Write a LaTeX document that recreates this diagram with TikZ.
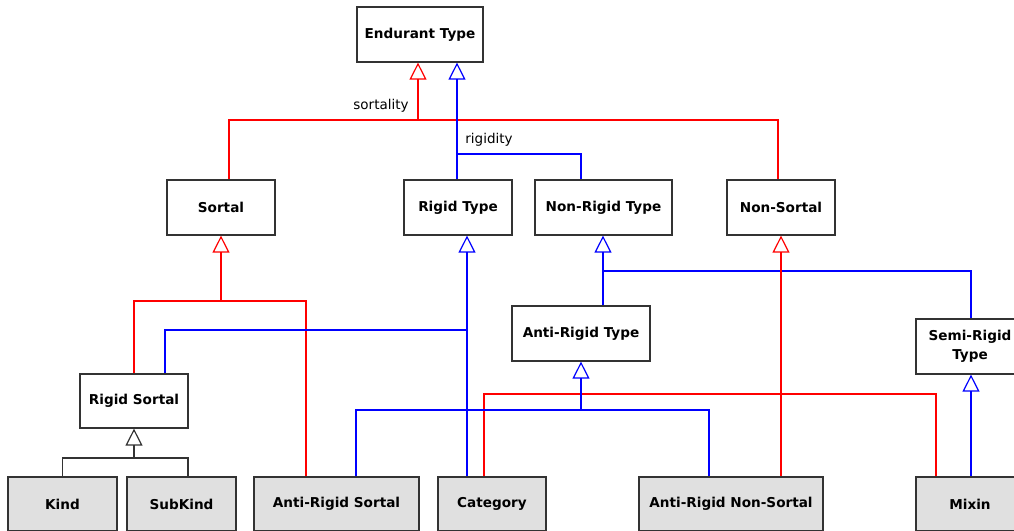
\documentclass[tikz,border=0pt]{standalone}
\usepackage{fontspec}
\setmainfont{DejaVu Sans}
\usetikzlibrary{arrows.meta}

\begin{document}
\begin{tikzpicture}[x=1pt, y=-1pt,
    font=\fontsize{13.5pt}{16pt}\selectfont,
    type/.style={draw=black!80, line width=1.2pt, fill=white, minimum height=55pt,
        inner sep=2pt, font=\fontsize{13.6pt}{19pt}\selectfont\bfseries, align=center},
    leaf/.style={type, fill=black!12},
    gen/.style={line width=1.2pt, -{Triangle[open, length=17pt, width=17pt]}},
    sortline/.style={line width=1.2pt, red},
    rigline/.style={line width=1.2pt, blue},
    specline/.style={line width=1.2pt, black!80}
]
    \useasboundingbox (0,0) rectangle (1014,530);

    % Types
    \node[type, minimum width=126pt] (endurant) at (420,34.5) {Endurant Type};
    \node[type, minimum width=108pt] (sortal) at (221,207.5) {Sortal};
    \node[type, minimum width=108pt] (rigid) at (458,207.5) {Rigid Type};
    \node[type, minimum width=137pt] (nonrigid) at (603.5,207.5) {Non-Rigid Type};
    \node[type, minimum width=108pt] (nonsortal) at (781,207.5) {Non-Sortal};
    \node[type, minimum width=138pt] (antirigid) at (581,333.5) {Anti-Rigid Type};
    \node[type, minimum width=108pt] (semirigid) at (970,346.5) {Semi-Rigid\\Type};
    \node[type, minimum width=108pt, minimum height=54pt] (rigidsortal) at (134,401) {Rigid Sortal};

    % Concrete types (bottom row)
    \node[leaf, minimum width=109pt, minimum height=54pt] (kind) at (62.5,504) {Kind};
    \node[leaf, minimum width=109pt, minimum height=54pt] (subkind) at (181.5,504) {SubKind};
    \node[leaf, minimum width=165pt, minimum height=54pt] (antirigidsortal) at (336.5,504) {Anti-Rigid Sortal};
    \node[leaf, minimum width=108pt, minimum height=54pt] (category) at (492,504) {Category};
    \node[leaf, minimum width=184pt, minimum height=54pt] (antirigidnonsortal) at (731,504) {Anti-Rigid Non-Sortal};
    \node[leaf, minimum width=108pt, minimum height=54pt] (mixin) at (970,504) {Mixin};

    % Junctions
    \coordinate (sortj) at (418,120);
    \coordinate (rigj) at (457,154);
    \coordinate (sortalj) at (221,301);
    \coordinate (rigidj) at (467,330);
    \coordinate (nonrigj) at (603,271);
    \coordinate (nonsortj) at (781,394);
    \coordinate (antirigj) at (581,410);
    \coordinate (rsj) at (134,458);

    % Sortality partition
    \draw[sortline] (229,0 |- sortal.north) |- (sortj) -| (778,0 |- nonsortal.north);
    \draw[sortline, gen] (sortj) -- (endurant.south -| sortj);
    \node (sortlbl) at (381,106) {sortality};

    % Rigidity partition
    \draw[rigline, gen] (rigid.north -| rigj) -- (endurant.south -| rigj);
    \draw[rigline] (rigj) -| (581,0 |- nonrigid.north);
    \node (riglbl) at (489,140) {rigidity};

    % Under Sortal
    \draw[sortline] (rigidsortal.north) |- (sortalj) -| (306,0 |- antirigidsortal.north);
    \draw[sortline, gen] (sortalj) -- (sortal.south);

    % Under Rigid Type
    \draw[rigline, gen] (467,0 |- category.north) -- (rigid.south -| rigidj);
    \draw[rigline] (165,0 |- rigidsortal.north) |- (rigidj);

    % Under Non-Rigid Type
    \draw[rigline, gen] (antirigid.north -| nonrigj) -- (nonrigid.south -| nonrigj);
    \draw[rigline] (nonrigj) -| (971,0 |- semirigid.north);

    % Under Non-Sortal
    \draw[sortline, gen] (antirigidnonsortal.north -| nonsortj) -- (nonsortal.south -| nonsortj);
    \draw[sortline] (484,0 |- category.north) |- (nonsortj) -| (936,0 |- mixin.north);

    % Under Anti-Rigid Type
    \draw[rigline] (356,0 |- antirigidsortal.north) |- (antirigj) -| (709,0 |- antirigidnonsortal.north);
    \draw[rigline, gen] (antirigj) -- (antirigid.south -| antirigj);

    % Under Semi-Rigid Type
    \draw[rigline, gen] (mixin.north -| 971,0) -- (semirigid.south -| 971,0);

    % Under Rigid Sortal
    \draw[specline] (kind.north) |- (rsj) -| (188,0 |- subkind.north);
    \draw[specline, gen] (rsj) -- (rigidsortal.south);
\end{tikzpicture}
\end{document}
